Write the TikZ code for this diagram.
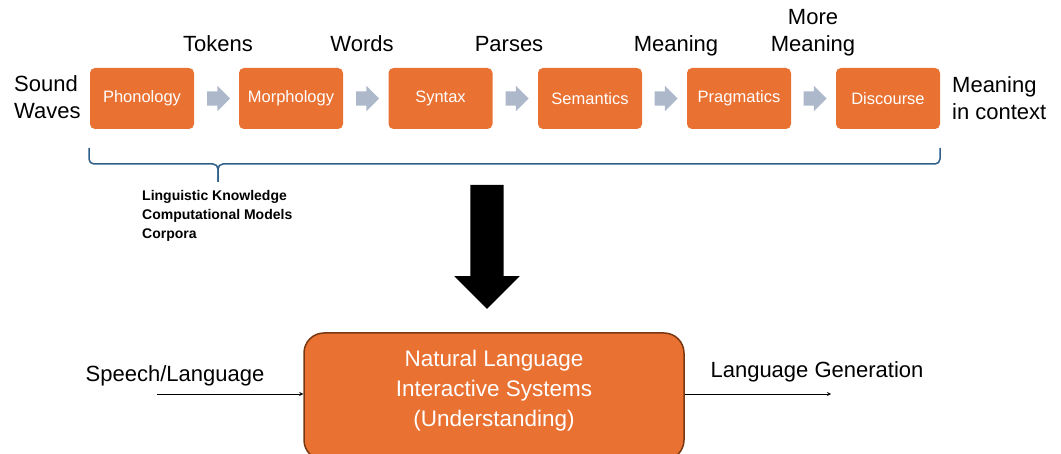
\documentclass[tikz,border=0pt]{standalone}
\usepackage{fontspec}
\setmainfont{Liberation Sans}
\usetikzlibrary{shapes.arrows}

\definecolor{stageorange}{RGB}{233,113,50}
\definecolor{sysedge}{RGB}{120,55,15}
\definecolor{chevgray}{RGB}{173,185,202}
\definecolor{braceblue}{RGB}{46,95,139}

\begin{document}
\begin{tikzpicture}[x=1pt, y=-1pt,
    stage/.style={fill=stageorange, rounded corners=5pt, minimum width=104pt,
                  minimum height=61pt, inner sep=0pt, text=white,
                  font=\fontsize{16.5}{19}\selectfont},
    chev/.style={single arrow, fill=chevgray, minimum height=23pt,
                 single arrow head extend=5.5pt, inner sep=7pt},
    lbl/.style={font=\fontsize{22}{27}\selectfont, inner sep=0pt},
    flow/.style={thick, -stealth},
  ]
    \useasboundingbox (0,0) rectangle (1061,454);
    \clip (0,0) rectangle (1061,454);

    % Stages
    \node [stage] (phon)  at (142,98.5) {Phonology};
    \node [stage] (morph) at (291,98.5) {Morphology};
    \node [stage] (synt)  at (440.5,98.5) {Syntax};
    \node [stage] (sem)   at (590,98.5) {Semantics};
    \node [stage] (prag)  at (739,98.5) {Pragmatics};
    \node [stage] (disc)  at (888,98.5) {Discourse};

    % Block arrows between stages
    \node [chev] (c1) at (215,98.5) {};
    \node [chev] (c2) at (364,98.5) {};
    \node [chev] (c3) at (513.5,98.5) {};
    \node [chev] (c4) at (662.5,98.5) {};
    \node [chev] (c5) at (811.5,98.5) {};

    % What each stage hands on
    \node [lbl, anchor=base] (tok)   at (218,52) {Tokens};
    \node [lbl, anchor=base] (words) at (362,52) {Words};
    \node [lbl, anchor=base] (pars)  at (509,52) {Parses};
    \node [lbl, anchor=base] (mean)  at (676,52) {Meaning};
    \node [lbl, align=center] (more) at (813,33) {More\\Meaning};

    % Input and output of the pipeline
    \node [lbl, align=left, anchor=west] (sound) at (14,97) {Sound\\Waves};
    \node [lbl, align=left, anchor=west] (ctx) at (952,98) {Meaning\\in context};

    % Brace
    \draw [braceblue, line width=1.5pt, rounded corners=5pt]
          (89,148) -- (89,164) -- (218,164) -- (218,182);
    \draw [braceblue, line width=1.5pt, rounded corners=5pt]
          (940,148) -- (940,164) -- (218,164) -- (218,182);
    \node [anchor=north west, align=left, inner sep=0pt,
           font=\fontsize{14}{19}\selectfont\bfseries] (know) at (142,190)
          {Linguistic Knowledge\\Computational Models\\Corpora};

    % Big arrow
    \node [single arrow, fill=black, shape border rotate=270, minimum height=124pt,
           single arrow head extend=16pt, inner sep=16.5pt]
          (down) at (487,238.5) {};

    % System
    \node [fill=stageorange, draw=sysedge, line width=1.5pt, rounded corners=20pt,
           minimum width=380pt, minimum height=127pt] (nlis) at (494,396.5) {};
    \node [align=center, text=white, font=\fontsize{22.5}{30}\selectfont]
          (nlistext) at (494,391) {Natural Language\\Interactive Systems\\(Understanding)};

    % Edges
    \coordinate (src) at (157,394);
    \coordinate (sink) at (831,394);
    \draw [flow] (src) -- (src -| nlis.west);
    \draw [flow] (sink -| nlis.east) -- (sink);
    \node [lbl, anchor=base] (speech) at (175,382) {Speech/Language};
    \node [lbl, anchor=base] (gen) at (817,378) {Language Generation};
\end{tikzpicture}
\end{document}
